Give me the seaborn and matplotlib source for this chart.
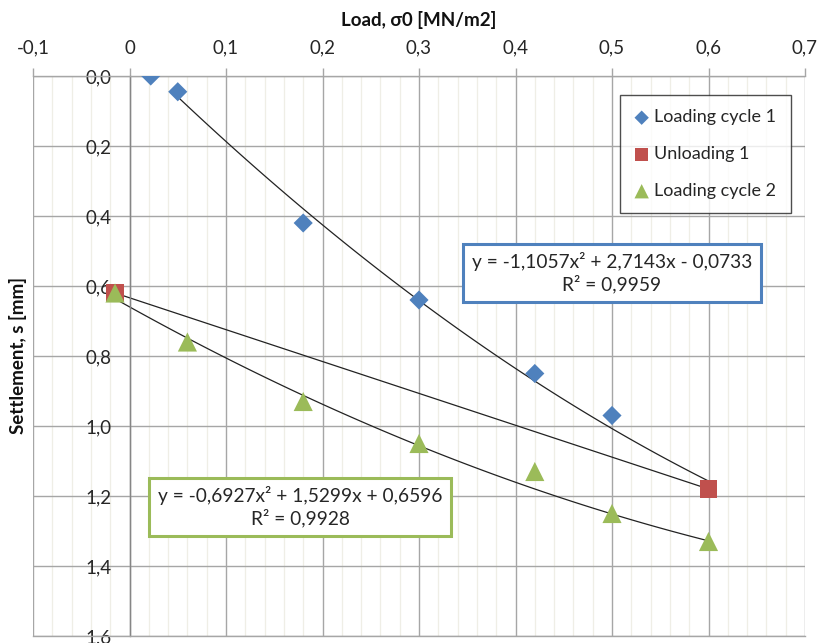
import numpy as np
import pandas as pd
import matplotlib
matplotlib.use("Agg")
import matplotlib.pyplot as plt
from matplotlib.ticker import MultipleLocator, FuncFormatter
import seaborn as sns

# Measured load / settlement pairs
load_cycle1 = [0.022, 0.05, 0.18, 0.30, 0.42, 0.50]
settle_cycle1 = [0.00, 0.045, 0.42, 0.64, 0.85, 0.97]

load_unload1 = [-0.015, 0.60]
settle_unload1 = [0.62, 1.18]

load_cycle2 = [-0.015, 0.06, 0.18, 0.30, 0.42, 0.50, 0.60]
settle_cycle2 = [0.62, 0.76, 0.93, 1.05, 1.13, 1.25, 1.33]

series_names = ["Loading cycle 1", "Unloading 1", "Loading cycle 2"]

# Polynomial trend coefficients (a, b, c) for y = a x^2 + b x + c
trend1 = (-1.1057, 2.7143, -0.0733)
r2_1 = 0.9959
trend2 = (-0.6927, 1.5299, 0.6596)
r2_2 = 0.9928

x_ticks = [-0.1, 0.0, 0.1, 0.2, 0.3, 0.4, 0.5, 0.6, 0.7]
y_ticks = [0.0, 0.2, 0.4, 0.6, 0.8, 1.0, 1.2, 1.4, 1.6]

BLUE = "#4F81BD"
RED = "#C0504D"
GREEN = "#9BBB59"
FONT = ["Lato", "DejaVu Sans"]

sns.set_theme(style="white")
plt.rcParams["font.family"] = FONT

df = pd.concat([
    pd.DataFrame({"load": load_cycle1, "settlement": settle_cycle1, "series": series_names[0]}),
    pd.DataFrame({"load": load_unload1, "settlement": settle_unload1, "series": series_names[1]}),
    pd.DataFrame({"load": load_cycle2, "settlement": settle_cycle2, "series": series_names[2]}),
], ignore_index=True)

fig = plt.figure(figsize=(8.21, 6.43), dpi=100)
ax = fig.add_axes([33 / 821, 1 - 636 / 643, (805 - 33) / 821, (636 - 76) / 643])

ax.set_xlim(x_ticks[0], x_ticks[-1])
ax.set_ylim(y_ticks[-1], y_ticks[0])

# grid: light minor verticals, grey majors
ax.xaxis.set_major_locator(MultipleLocator(0.1))
ax.xaxis.set_minor_locator(MultipleLocator(0.02))
ax.yaxis.set_major_locator(MultipleLocator(0.2))
ax.grid(which="minor", axis="x", color="#EFEEE6", lw=0.9, zorder=0)
ax.grid(which="major", axis="x", color="#A6A6A6", lw=1.0, zorder=0)
ax.grid(which="major", axis="y", color="#A6A6A6", lw=1.0, zorder=0)
ax.set_axisbelow(True)

# trend lines
xs1 = np.linspace(0.05, 0.60, 100)
ax.plot(xs1, trend1[0] * xs1 ** 2 + trend1[1] * xs1 + trend1[2], color="#222222", lw=0.9, zorder=2)
xs2 = np.linspace(load_cycle2[0], load_cycle2[-1], 100)
ax.plot(xs2, trend2[0] * xs2 ** 2 + trend2[1] * xs2 + trend2[2], color="#222222", lw=0.9, zorder=2)
ax.plot(load_unload1, settle_unload1, color="#222222", lw=0.9, zorder=2)

# markers
sub = df[df.series == series_names[0]]
sns.scatterplot(data=sub, x="load", y="settlement", marker="D", s=95, color=BLUE,
                edgecolor="none", label=series_names[0], ax=ax, zorder=3)
sub = df[df.series == series_names[1]]
sns.scatterplot(data=sub, x="load", y="settlement", marker="s", s=160, color=RED,
                edgecolor="none", label=series_names[1], ax=ax, zorder=3)
sub = df[df.series == series_names[2]]
sns.scatterplot(data=sub, x="load", y="settlement", marker="^", s=190, color=GREEN,
                edgecolor="none", label=series_names[2], ax=ax, zorder=4)

# axes: x on top, y axis crossing at x = 0
ax.xaxis.tick_top()
ax.xaxis.set_label_position("top")
for side in ["top", "left", "bottom", "right"]:
    ax.spines[side].set_color("#A6A6A6")
    ax.spines[side].set_linewidth(1.0)
ax.spines["right"].set_visible(False)
ax.spines["left"].set_position(("data", 0.0))
ax.spines["left"].set_color("#868686")

ax.set_xticks(x_ticks)
ax.set_yticks(y_ticks)
ax.xaxis.set_major_formatter(FuncFormatter(lambda v, p: "0" if abs(v) < 1e-9 else f"{v:.1f}".replace(".", ",")))
ax.yaxis.set_major_formatter(FuncFormatter(lambda v, p: f"{v:.1f}".replace(".", ",")))
ax.tick_params(axis="x", which="major", direction="out", length=6, width=1, color="#A6A6A6",
               pad=8, labelsize=13.5, labelcolor="#262626", top=True, bottom=False)
ax.tick_params(axis="x", which="minor", length=0, top=False, bottom=False)
ax.tick_params(axis="y", which="major", length=0, pad=13, labelsize=13.5, labelcolor="#262626")

ax.set_xlabel("Load, σ0 [MN/m2]", fontsize=13.5, fontweight="bold", color="#111111")
ax.set_ylabel("Settlement, s [mm]", fontsize=13.5, fontweight="bold", color="#111111")
ax.xaxis.set_label_coords(0.5, 1.0 + 50 / 560)
ax.yaxis.set_label_coords(-6 / 772, 0.5)

leg = ax.legend(loc="upper left", bbox_to_anchor=((620 - 33) / 772, 1 - 19 / 560), borderaxespad=0,
                frameon=True, fancybox=False, fontsize=13, markerscale=0.75, handlelength=0.8,
                handletextpad=0.3, labelspacing=1.15, borderpad=0.8)
leg.get_frame().set_edgecolor("#222222")
leg.get_frame().set_linewidth(1.0)
for t in leg.get_texts():
    t.set_color("#262626")

def fmt(v):
    return f"{abs(v):.4f}".replace(".", ",")

def eq_text(c, r2):
    a, b, d = c
    s1 = "-" if a < 0 else ""
    s2 = "+" if b >= 0 else "-"
    s3 = "+" if d >= 0 else "-"
    return f"y = {s1}{fmt(a)}x² {s2} {fmt(b)}x {s3} {fmt(d)}\nR² = {fmt(r2)}"

ax.text(0.50, 0.562, eq_text(trend1, r2_1), ha="center", va="center", fontsize=13.8, color="#262626",
        linespacing=1.2, zorder=5,
        bbox=dict(boxstyle="square,pad=0.45", fc="white", ec=BLUE, lw=2.2))
ax.text(0.177, 1.231, eq_text(trend2, r2_2), ha="center", va="center", fontsize=13.8, color="#262626",
        linespacing=1.2, zorder=5,
        bbox=dict(boxstyle="square,pad=0.45", fc="white", ec=GREEN, lw=2.2))

fig.savefig("out.png", dpi=100)
